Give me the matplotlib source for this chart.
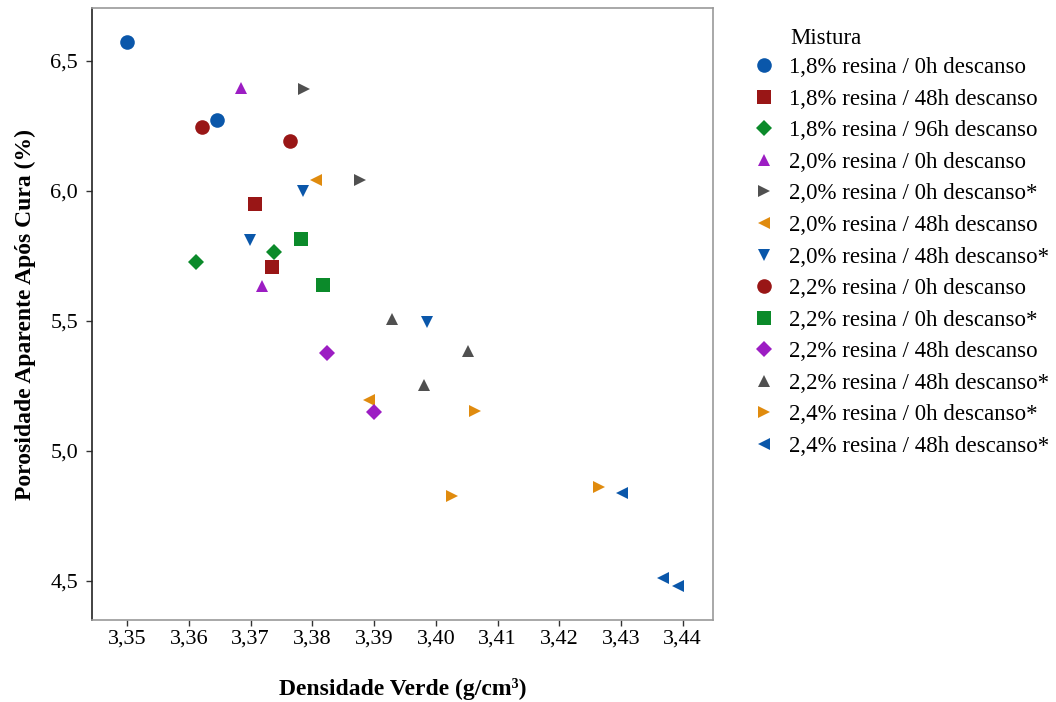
import numpy as np
import matplotlib.pyplot as plt
from matplotlib.ticker import FuncFormatter

plt.rcParams['font.family'] = ['Liberation Serif', 'DejaVu Serif']

# series: label, x (densidade verde), y (porosidade)
labels = ["1,8% resina / 0h descanso", "1,8% resina / 48h descanso",
          "1,8% resina / 96h descanso", "2,0% resina / 0h descanso",
          "2,0% resina / 0h descanso*", "2,0% resina / 48h descanso",
          "2,0% resina / 48h descanso*", "2,2% resina / 0h descanso",
          "2,2% resina / 0h descanso*", "2,2% resina / 48h descanso",
          "2,2% resina / 48h descanso*", "2,4% resina / 0h descanso*",
          "2,4% resina / 48h descanso*"]
xs = [[3.3500, 3.3646], [3.3707, 3.3735], [3.3612, 3.3738], [3.3685, 3.3719],
      [3.3787, 3.3877], [3.3806, 3.3892], [3.3785, 3.3699, 3.3986],
      [3.3621, 3.3764], [3.3782, 3.3817], [3.3824, 3.3900],
      [3.3929, 3.3981, 3.4052], [3.4063, 3.4026, 3.4264],
      [3.4302, 3.4368, 3.4393]]
ys = [[6.573, 6.273], [5.950, 5.708], [5.727, 5.765], [6.396, 5.635],
      [6.392, 6.042], [6.042, 5.196], [6.000, 5.812, 5.496],
      [6.246, 6.192], [5.815, 5.638], [5.377, 5.150],
      [5.508, 5.254, 5.385], [5.154, 4.827, 4.862],
      [4.840, 4.512, 4.481]]

markers = ['o', 's', 'D', '^', '>', '<', 'v', 'o', 's', 'D', '^', '>', '<']
colors = ['#0a57aa', '#991616', '#0b8a2a', '#9c1dc3', '#505050', '#e08b0e',
          '#0a57aa', '#991616', '#0b8a2a', '#9c1dc3', '#505050', '#e08b0e',
          '#0a57aa']
sizes = [10.5, 9.5, 8.5, 9, 9, 9, 9, 10.5, 9.5, 8.5, 9, 9, 9]

fig = plt.figure(figsize=(10.56, 7.02), dpi=100)
ax = fig.add_axes([0.0871, 0.1168, 0.5881, 0.8718])

for lab, x, y, m, c, s in zip(labels, xs, ys, markers, colors, sizes):
    ax.plot(x, y, linestyle='none', marker=m, color=c, markersize=s,
            markeredgewidth=0, label=lab)

ax.set_xlim(3.3443, 3.4449)
ax.set_ylim(4.35, 6.704)
ax.set_xticks(np.arange(3.35, 3.4451, 0.01))
ax.set_yticks([4.5, 5.0, 5.5, 6.0, 6.5])
ax.xaxis.set_major_formatter(FuncFormatter(lambda v, p: f"{v:.2f}".replace('.', ',')))
ax.yaxis.set_major_formatter(FuncFormatter(lambda v, p: f"{v:.1f}".replace('.', ',')))
ax.tick_params(labelsize=16, length=4, width=1, color='#333333')
ax.tick_params(axis='x', pad=3)
ax.tick_params(axis='y', pad=6)
for name, sp in ax.spines.items():
    sp.set_linewidth(1.2)
    sp.set_color('#222222' if name == 'left' else '#999999')

ax.set_xlabel("Densidade Verde (g/cm³)", fontsize=17, fontweight='bold', labelpad=21)
ax.set_ylabel("Porosidade Aparente Após Cura (%)", fontsize=17, fontweight='bold', labelpad=10)

fig.text(790 / 1056, 1 - 38 / 702, "Mistura", fontsize=16.5, va='center', ha='left')
leg = ax.legend(loc='upper left', bbox_to_anchor=(750 / 1056, 1 - 57 / 702),
                bbox_transform=fig.transFigure,
                frameon=False, fontsize=16.5,
                handletextpad=0.52, labelspacing=0.46, borderaxespad=0,
                borderpad=0, handlelength=1.2)

fig.savefig("out.png", dpi=100)
